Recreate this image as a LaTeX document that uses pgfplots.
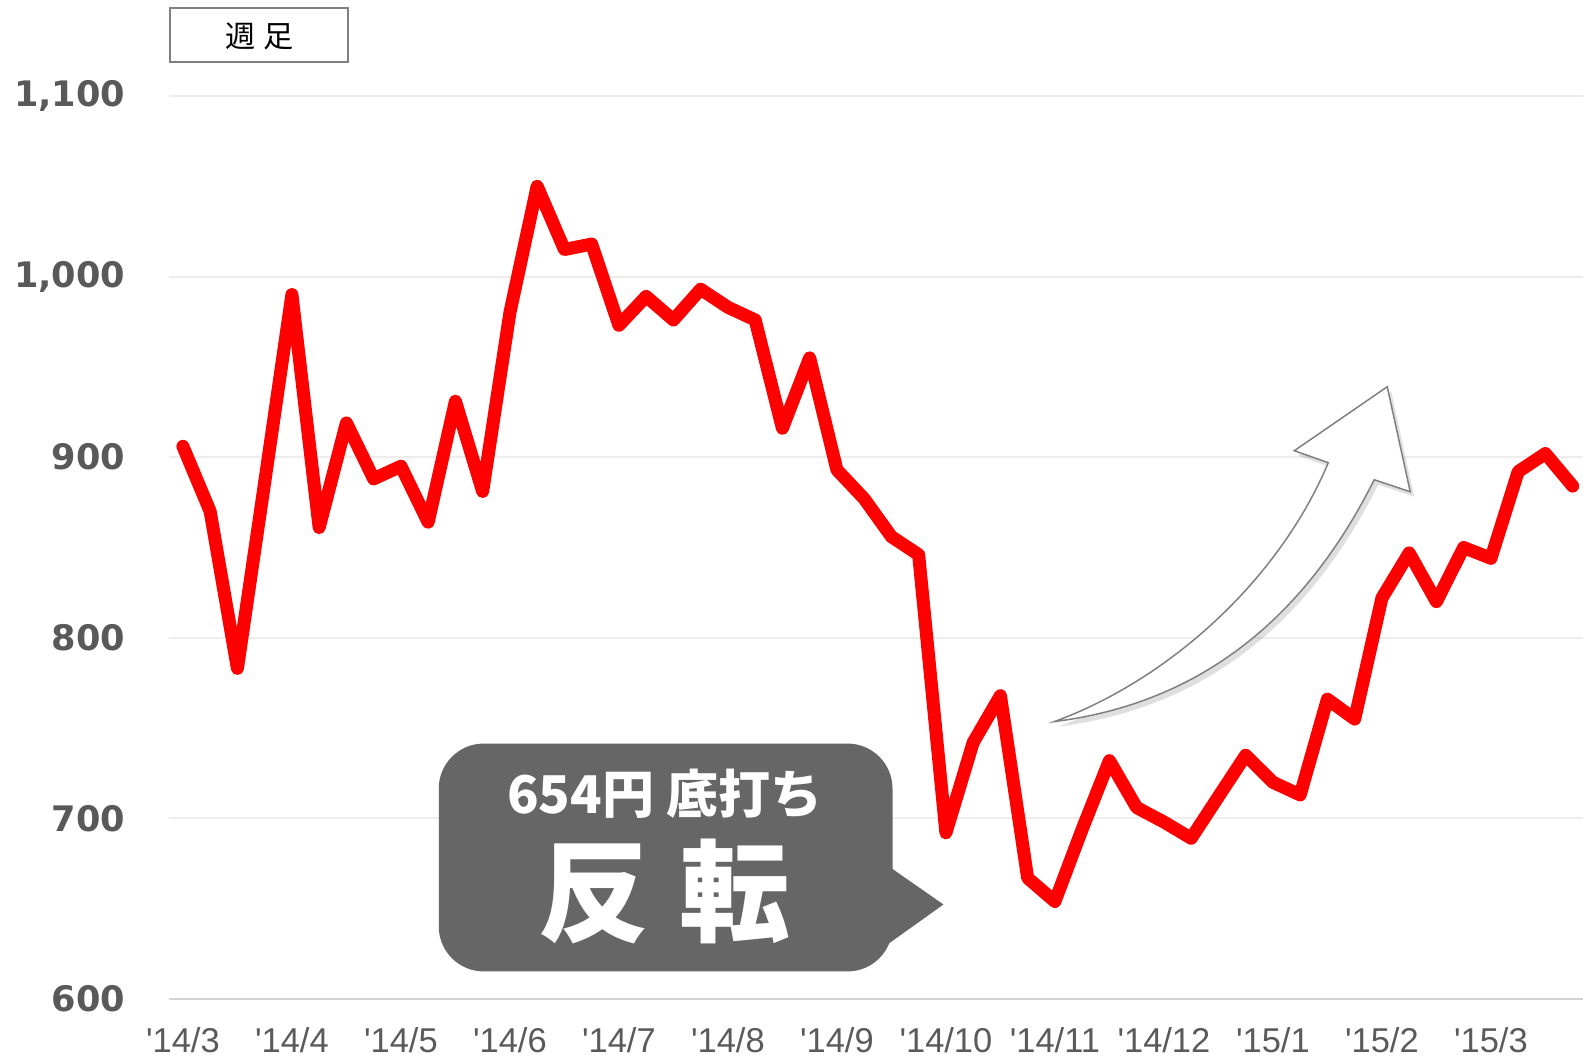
\documentclass[border=0pt]{standalone}
\usepackage{pgfplots}
\pgfplotsset{compat=1.18}
\usepackage{fontspec}
\setmainfont{Liberation Sans}
\newfontfamily\cjk{Noto Sans CJK JP}
\newfontfamily\yfont{DejaVu Sans}
\usetikzlibrary{shadows}
\definecolor{lblgray}{HTML}{595959}
\definecolor{xlblgray}{HTML}{5A5A5A}
\definecolor{gridgray}{HTML}{EDEDED}
\definecolor{basegray}{HTML}{D4D4D4}
\definecolor{boxgray}{HTML}{666666}
\definecolor{arrowgray}{HTML}{808080}
\definecolor{lred}{HTML}{FF0000}

\pgfplotstableread{
idx val
0 906
1 870
2 783
3 886
4 990
5 861
6 919
7 888
8 895
9 864
10 931
11 881
12 980
13 1050
14 1015
15 1018
16 973
17 989
18 976
19 993
20 983
21 976
22 916
23 955
24 893
25 877
26 856
27 846
28 692
29 742
30 768
31 667
32 654
33 694
34 732
35 706
36 698
37 689
38 712
39 735
40 720
41 713
42 766
43 755
44 822
45 847
46 820
47 850
48 844
49 892
50 902
51 884
}\weekly

\begin{document}
\begin{tikzpicture}
\useasboundingbox (0,0) rectangle (15.83cm,10.57cm);
\begin{axis}[
  at={(1.69cm,0.58cm)}, anchor=south west,
  scale only axis, width=14.14cm, height=9.933cm,
  xmin=-0.51, xmax=51.38, ymin=600, ymax=1150,
  axis line style={draw=none},
  major tick length=0pt,
  ytick={600,700,800,900,1000,1100},
  yticklabels={600,700,800,900,{1,000},{1,100}},
  xtick={0,4,...,48},
  xticklabels={\textquotesingle14/3,\textquotesingle14/4,\textquotesingle14/5,\textquotesingle14/6,\textquotesingle14/7,\textquotesingle14/8,\textquotesingle14/9,\textquotesingle14/10,\textquotesingle14/11,\textquotesingle14/12,\textquotesingle15/1,\textquotesingle15/2,\textquotesingle15/3},
  ymajorgrids,
  grid style={draw=gridgray, line width=0.02cm},
  yticklabel style={font=\yfont\bfseries\fontsize{10pt}{12pt}\selectfont, text=lblgray, anchor=east, inner sep=0pt, xshift=-0.43cm},
  xticklabel style={font=\fontsize{9.8pt}{11pt}\selectfont, text=xlblgray, anchor=north, inner sep=0pt, yshift=-0.28cm},
]
\draw[basegray, line width=0.03cm] (axis cs:-0.51,600) -- (axis cs:51.38,600);
\addplot[lred, line width=0.13cm, line join=round, line cap=round] table[x=idx, y=val] {\weekly};
\end{axis}

\begin{scope}[x=0.01cm, y=-0.01cm, shift={(0,10.57cm)}]
  % label box
  \draw[draw=arrowgray, line width=0.02cm, fill=white] (170,8) rectangle (348,62);
  \node[font=\cjk\fontsize{8.6pt}{10pt}\selectfont, text=black] at (260,36) {週\hspace{0.08cm}足};
  % curved arrow
  \filldraw[draw=arrowgray, fill=white, line width=0.015cm, line join=miter,
     drop shadow={shadow xshift=0.04cm, shadow yshift=-0.05cm, opacity=0.25}]
    (1055,722) .. controls (1170,680) and (1280,580) .. (1329,463)
    -- (1295,451) -- (1388,387) -- (1411,492) -- (1375,480)
    .. controls (1300,630) and (1190,705) .. (1055,722) -- cycle;
  % callout
  \fill[boxgray, rounded corners=0.45cm] (439,744) rectangle (893,972);
  \fill[boxgray] (888,866) -- (944,905) -- (888,945) -- cycle;
  \node[font=\cjk\bfseries\fontsize{14.8pt}{16pt}\selectfont, text=white] at (665,794) {654円 底打ち};
  \node[font=\cjk\bfseries\fontsize{31.5pt}{34pt}\selectfont, text=white] at (665,892) {反\hspace{0.3cm}転};
\end{scope}
\end{tikzpicture}
\end{document}
